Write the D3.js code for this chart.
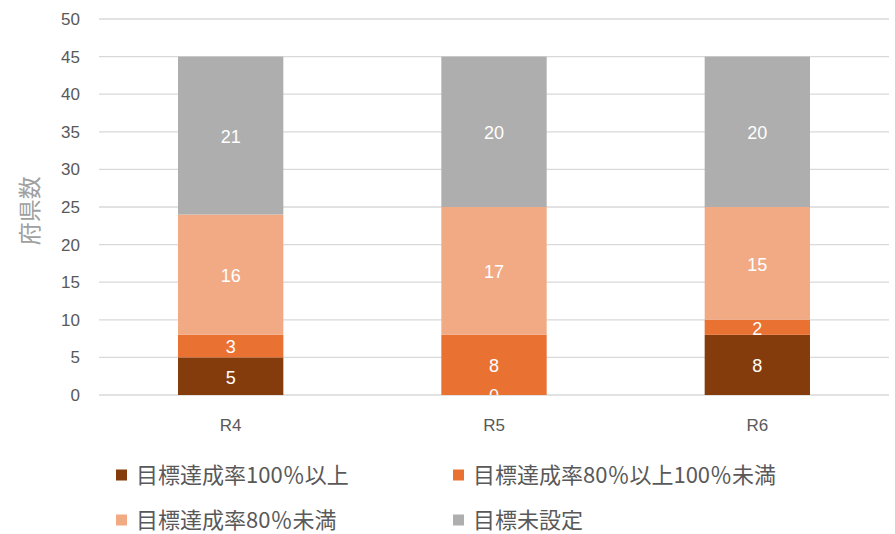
<!DOCTYPE html>
<html lang='ja'>
<head>
  <meta charset='utf-8'>
  <title>府県数</title>
  <script src='https://cdn.jsdelivr.net/npm/d3@7'></script>
  <style>
    body { margin: 0; background: #fff; }
    text { font-family: 'Noto Sans CJK JP', 'Liberation Sans', sans-serif; }
  </style>
</head>
<body>
  <script>
    // data
    const categories = ["R4", "R5", "R6"];
    const seriesNames = ["目標達成率100％以上", "目標達成率80％以上100％未満", "目標達成率80％未満", "目標未設定"];
    const over100 = [5, 0, 8];
    const from80 = [3, 8, 2];
    const under80 = [16, 17, 15];
    const notSet = [21, 20, 20];
    const yTicks = [0, 5, 10, 15, 20, 25, 30, 35, 40, 45, 50];
    const colors = ["#843C0C", "#E97132", "#F2AA84", "#AEAEAE"];

    const width = 895, height = 534;
    const plot = { left: 99, right: 889, top: 19, bottom: 395 };

    const svg = d3.select("body").append("svg")
      .attr("width", width).attr("height", height);

    const x = d3.scaleBand().domain(categories)
      .range([plot.left, plot.right]).paddingInner(0.6).paddingOuter(0.3);
    const y = d3.scaleLinear().domain([0, 50]).range([plot.bottom, plot.top]);

    // gridlines
    svg.append("g").selectAll("line").data(yTicks).join("line")
      .attr("x1", plot.left).attr("x2", plot.right)
      .attr("y1", d => y(d)).attr("y2", d => y(d))
      .attr("stroke", "#d9d9d9").attr("stroke-width", 1.3);

    // tick labels
    svg.append("g").selectAll("text").data(yTicks).join("text")
      .attr("x", 80).attr("y", d => y(d))
      .attr("text-anchor", "end").attr("dy", "0.35em")
      .attr("font-size", 17).attr("fill", "#595959")
      .style("font-family", "'Liberation Sans', sans-serif")
      .text(d => d);

    // axis title
    svg.append("text")
      .attr("transform", `translate(38, ${y(24.5)}) rotate(-90)`)
      .attr("text-anchor", "middle")
      .attr("font-size", 23).attr("fill", "#a0a0a0")
      .text("府県数");

    // stack
    const rows = categories.map((c, i) => ({
      cat: c, s0: over100[i], s1: from80[i], s2: under80[i], s3: notSet[i]
    }));
    const stacked = d3.stack().keys(["s0", "s1", "s2", "s3"])(rows);

    svg.append("clipPath").attr("id", "plotClip")
      .append("rect").attr("x", plot.left).attr("y", plot.top)
      .attr("width", plot.right - plot.left).attr("height", plot.bottom - plot.top);

    const layers = svg.append("g").selectAll("g").data(stacked).join("g")
      .attr("fill", (d, i) => colors[i]);
    layers.selectAll("rect").data(d => d).join("rect")
      .attr("x", d => x(d.data.cat))
      .attr("width", x.bandwidth())
      .attr("y", d => y(d[1]))
      .attr("height", d => y(d[0]) - y(d[1]));

    // data labels
    const labels = svg.append("g").attr("clip-path", "url(#plotClip)");
    stacked.forEach(layer => {
      labels.selectAll(null).data(layer).join("text")
        .attr("x", d => x(d.data.cat) + x.bandwidth() / 2)
        .attr("y", d => y((d[0] + d[1]) / 2) + 1)
        .attr("dy", "0.35em")
        .attr("text-anchor", "middle")
        .attr("font-size", 18).attr("fill", "#fff")
        .style("font-family", "'Liberation Sans', sans-serif")
        .text(d => d[1] - d[0]);
    });

    // category labels
    svg.append("g").selectAll("text").data(categories).join("text")
      .attr("x", d => x(d) + x.bandwidth() / 2)
      .attr("y", 425).attr("dy", "0.35em")
      .attr("text-anchor", "middle")
      .attr("font-size", 17).attr("fill", "#595959")
      .style("font-family", "'Liberation Sans', sans-serif")
      .text(d => d);

    // legend
    const legendPos = [[116, 475], [453, 475], [116, 520], [453, 520]];
    const legend = svg.append("g").selectAll("g").data(seriesNames).join("g")
      .attr("transform", (d, i) => `translate(${legendPos[i][0]}, ${legendPos[i][1]})`);
    legend.append("rect")
      .attr("x", 0).attr("y", -5.5).attr("width", 11).attr("height", 11)
      .attr("fill", (d, i) => colors[i]);
    legend.append("text")
      .attr("x", 20).attr("dy", "0.36em")
      .attr("font-size", 22).attr("fill", "#595959")
      .text(d => d);
  </script>
</body>
</html>
